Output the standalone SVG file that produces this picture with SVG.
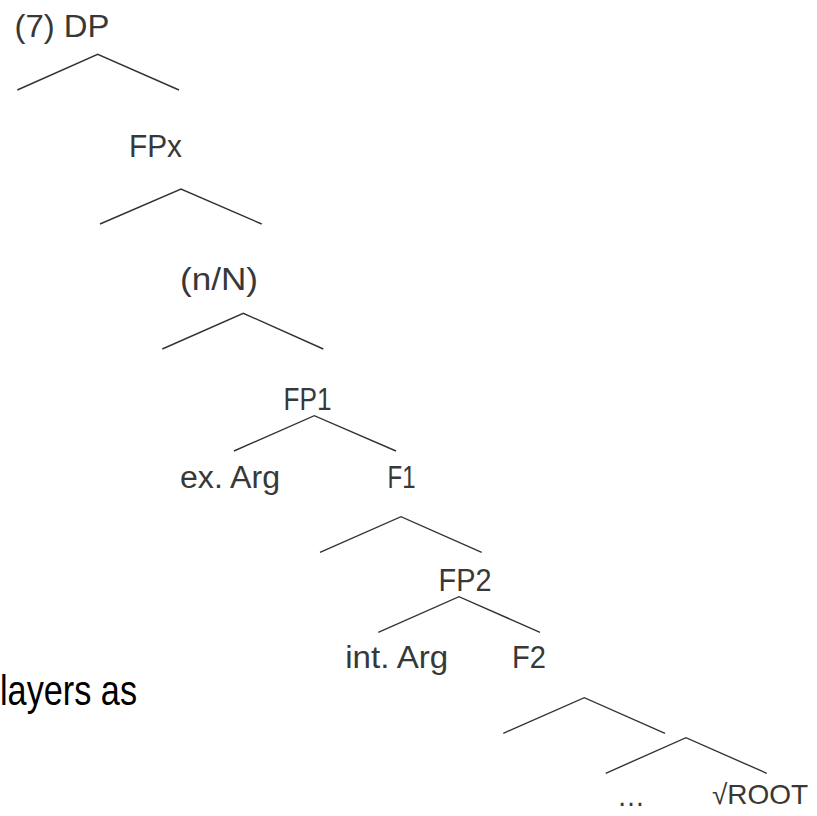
<svg xmlns="http://www.w3.org/2000/svg" width="817" height="816" viewBox="0 0 817 816">
<style>
.lbl{font-family:"Liberation Sans",Arial,sans-serif;font-size:31px;fill:#383838;text-anchor:middle}
.edge{stroke:#333;stroke-width:1.4;fill:none}
</style>
<rect width="817" height="816" fill="#fff"/>
<g id="connectors">
<polyline class="edge" points="17.3,90 97.7,54.3 179,90"/>
<polyline class="edge" points="100,224 181,189 261.7,224"/>
<polyline class="edge" points="162.3,349 243.3,313.3 323.3,349"/>
<polyline class="edge" points="234,451 314.3,415.7 396,451"/>
<polyline class="edge" points="320,552.3 401,516.7 481.7,552.3"/>
<polyline class="edge" points="378.3,632.3 459,596.7 540,632.3"/>
<polyline class="edge" points="503.3,733.3 584.3,697.7 665,733.3"/>
<polyline class="edge" points="605.7,773.3 686,737.7 766.7,773.3"/>
</g>
<g id="node-dp"><text class="lbl" x="62" y="37" textLength="95" lengthAdjust="spacingAndGlyphs">(7) DP</text></g>
<g id="node-fpx"><text class="lbl" x="155.5" y="157" textLength="53" lengthAdjust="spacingAndGlyphs">FPx</text></g>
<g id="node-nN"><text class="lbl" x="219" y="290" textLength="78" lengthAdjust="spacingAndGlyphs">(n/N)</text></g>
<g id="node-fp1"><text class="lbl" x="307.5" y="410" textLength="48" lengthAdjust="spacingAndGlyphs">FP1</text></g>
<g id="node-exarg"><text class="lbl" x="230" y="488" textLength="100" lengthAdjust="spacingAndGlyphs">ex. Arg</text></g>
<g id="node-f1"><text class="lbl" x="401.5" y="488" textLength="28" lengthAdjust="spacingAndGlyphs">F1</text></g>
<g id="node-fp2"><text class="lbl" x="465" y="590.5" textLength="53" lengthAdjust="spacingAndGlyphs">FP2</text></g>
<g id="node-intarg"><text class="lbl" x="396.7" y="668" textLength="103" lengthAdjust="spacingAndGlyphs">int. Arg</text></g>
<g id="node-f2"><text class="lbl" x="529" y="668" textLength="34" lengthAdjust="spacingAndGlyphs">F2</text></g>
<g id="node-dots"><text class="lbl" x="631" y="806" textLength="28" lengthAdjust="spacingAndGlyphs">…</text></g>
<g id="node-root"><text class="lbl" x="760" y="804" style="font-size:28px">√ROOT</text></g>
<text x="0" y="705" font-family="'Liberation Sans',Arial,sans-serif" font-size="42" fill="#000" textLength="137" lengthAdjust="spacingAndGlyphs">layers as</text>
</svg>
